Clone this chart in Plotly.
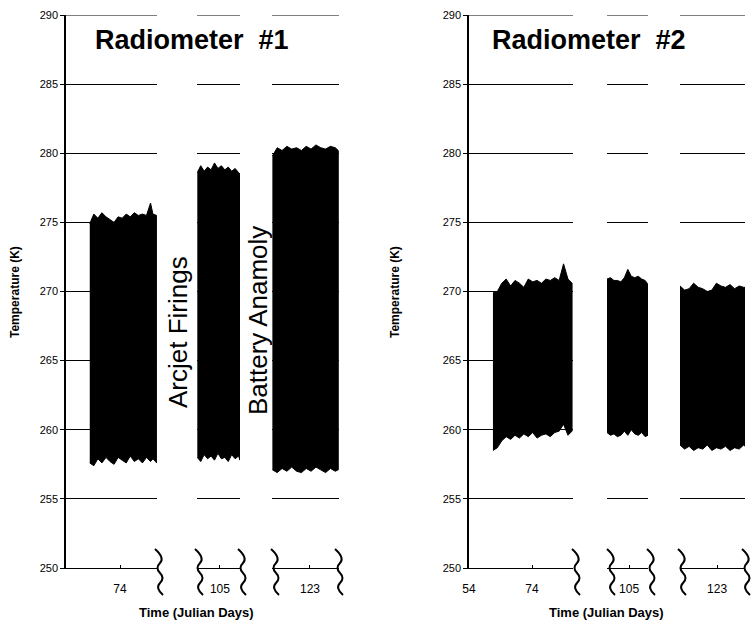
import plotly.graph_objects as go

W, H = 752, 625

# ---------------- data ----------------
# Radiometer #1 (left panel): upper / lower envelopes of the temperature band
r1_seg1_days = [62.8, 64.3, 65.8, 67.3, 68.8, 70.3, 71.8, 73.3, 74.8, 76.3, 77.8, 79.3, 80.8, 82.3, 83.8, 85.3, 86.2, 87.6]
r1_seg1_upper = [274.9, 275.6, 275.3, 275.7, 275.4, 275.2, 275.0, 275.4, 275.3, 275.6, 275.4, 275.7, 275.5, 275.6, 275.5, 276.4, 275.6, 275.5]
r1_seg1_lower = [257.6, 257.4, 257.9, 257.6, 258.0, 257.7, 257.5, 258.0, 257.8, 257.6, 258.1, 257.7, 257.9, 257.6, 258.0, 257.7, 257.9, 257.6]

r1_seg2_days = [97.1, 98.3, 99.5, 100.7, 101.9, 103.1, 104.3, 105.5, 106.7, 107.9, 109.1, 110.3, 111.5, 112.0]
r1_seg2_upper = [278.6, 279.1, 278.7, 279.0, 278.8, 279.3, 278.9, 279.1, 278.8, 279.0, 278.7, 278.9, 278.6, 278.5]
r1_seg2_lower = [258.0, 257.7, 258.2, 257.9, 258.1, 257.8, 258.3, 257.9, 258.0, 257.7, 258.2, 257.9, 258.1, 257.8]

r1_seg3_days = [112.9, 114.2, 115.5, 116.8, 118.1, 119.4, 120.7, 122.0, 123.3, 124.6, 125.9, 127.2, 128.5, 129.8, 130.6]
r1_seg3_upper = [279.8, 280.4, 280.2, 280.5, 280.3, 280.4, 280.2, 280.5, 280.3, 280.6, 280.4, 280.3, 280.5, 280.4, 280.2]
r1_seg3_lower = [257.1, 256.9, 257.2, 257.0, 257.3, 257.0, 256.9, 257.2, 257.0, 257.3, 257.1, 256.9, 257.2, 257.0, 257.1]

# Radiometer #2 (right panel)
r2_seg1_days = [61.6, 63.0, 64.4, 65.8, 67.2, 68.6, 70.0, 71.4, 72.8, 74.2, 75.6, 77.0, 78.4, 79.8, 81.2, 82.6, 84.0, 85.4, 86.7]
r2_seg1_upper = [269.9, 270.0, 270.6, 270.9, 270.4, 270.8, 270.6, 270.3, 270.9, 270.7, 270.8, 270.6, 270.9, 270.8, 271.0, 270.8, 272.0, 270.9, 270.6]
r2_seg1_lower = [258.5, 258.7, 259.2, 259.5, 259.3, 259.6, 259.4, 259.7, 259.5, 259.8, 259.4, 259.6, 259.7, 259.5, 259.8, 259.9, 260.4, 259.6, 259.9]

r2_seg2_days = [98.0, 99.1, 100.2, 101.3, 102.4, 103.5, 104.6, 105.7, 106.8, 107.9, 109.0, 110.1, 111.0]
r2_seg2_upper = [270.9, 271.0, 270.8, 270.8, 270.7, 271.0, 271.6, 271.1, 271.0, 271.1, 270.9, 270.8, 270.5]
r2_seg2_lower = [259.8, 259.6, 259.7, 259.5, 259.6, 259.9, 259.6, 260.0, 259.7, 259.6, 259.8, 259.5, 259.6]

r2_seg3_days = [111.6, 113.0, 114.4, 115.8, 117.2, 118.6, 120.0, 121.4, 122.8, 124.2, 125.6, 127.0, 128.4, 129.8, 131.2, 131.6]
r2_seg3_upper = [270.4, 270.1, 270.2, 270.6, 270.3, 270.2, 270.0, 270.1, 270.6, 270.4, 270.3, 270.5, 270.2, 270.4, 270.3, 270.3]
r2_seg3_lower = [258.9, 258.6, 258.8, 258.5, 258.7, 258.6, 258.9, 258.5, 258.7, 258.6, 258.8, 258.5, 258.7, 258.6, 258.9, 258.8]

# axis ranges (Julian days) for each broken-axis segment, and tick labels
r1_ranges = [[54, 87.7], [97.0, 112.0], [112.8, 130.8]]
r2_ranges = [[54, 87.0], [98.0, 111.0], [111.6, 131.6]]
r1_ticks = [[74], [105], [123]]
r2_ticks = [[54, 74], [105], [123]]
y_range = [250, 290]
y_ticks = [250, 255, 260, 265, 270, 275, 280, 285, 290]

titles = ["Radiometer\u00a0 #1", "Radiometer\u00a0 #2"]
x_title = "Time (Julian Days)"
y_title = "Temperature (K)"
notes = ["Arcjet Firings", "Battery Anamoly"]

# ---------------- layout helpers ----------------
def px_x(p):
    return p / W

def px_y(p):
    return 1 - p / H

# segment domains in pixels
r1_dom_px = [(66, 157), (197, 240), (272, 339)]
r2_dom_px = [(469, 573), (607, 648), (680, 745)]
y_dom = [px_y(568), px_y(15)]

FONT = "Liberation Sans, Arial, Helvetica, sans-serif"

fig = go.Figure()

segments = [
    (r1_seg1_days, r1_seg1_upper, r1_seg1_lower),
    (r1_seg2_days, r1_seg2_upper, r1_seg2_lower),
    (r1_seg3_days, r1_seg3_upper, r1_seg3_lower),
    (r2_seg1_days, r2_seg1_upper, r2_seg1_lower),
    (r2_seg2_days, r2_seg2_upper, r2_seg2_lower),
    (r2_seg3_days, r2_seg3_upper, r2_seg3_lower),
]

for i, (d, up, lo) in enumerate(segments):
    xa = "x" if i == 0 else f"x{i+1}"
    ya = "y" if i < 3 else "y2"
    fig.add_trace(go.Scatter(
        x=list(d) + list(d)[::-1],
        y=list(up) + list(lo)[::-1],
        xaxis=xa, yaxis=ya,
        mode="lines", fill="toself",
        fillcolor="black", line=dict(color="black", width=1),
        hoverinfo="skip", showlegend=False,
    ))

layout = dict(
    width=W, height=H,
    margin=dict(l=0, r=0, t=0, b=0),
    paper_bgcolor="white", plot_bgcolor="white",
    font=dict(family=FONT, color="black"),
    showlegend=False,
)

doms = r1_dom_px + r2_dom_px
ranges = r1_ranges + r2_ranges
ticks = r1_ticks + r2_ticks
for i in range(6):
    key = "xaxis" if i == 0 else f"xaxis{i+1}"
    layout[key] = dict(
        domain=[px_x(doms[i][0]), px_x(doms[i][1])],
        range=ranges[i],
        anchor="y" if i < 3 else "y2",
        showline=True, linecolor="black", linewidth=1.2,
        showgrid=False, zeroline=False,
        tickmode="array", tickvals=ticks[i],
        ticks="inside", ticklen=3, tickcolor="black",
        ticklabelstandoff=9,
        tickfont=dict(size=12, family=FONT, color="black"),
        automargin=False, fixedrange=True,
    )

for j, key in enumerate(["yaxis", "yaxis2"]):
    layout[key] = dict(
        domain=y_dom,
        range=y_range,
        anchor="x" if j == 0 else "x4",
        showline=True, linecolor="black", linewidth=1.5,
        showgrid=True, gridcolor="black", gridwidth=1,
        zeroline=False,
        tickmode="array", tickvals=y_ticks,
        ticks="outside", ticklen=4, tickcolor="black",
        tickfont=dict(size=11, family=FONT, color="black"),
        automargin=False, fixedrange=True,
    )

fig.update_layout(**layout)

# ---------------- text ----------------
ann = []
for cx, t in zip([192, 589], titles):
    ann.append(dict(x=px_x(cx), y=px_y(40), xref="paper", yref="paper",
                    xanchor="center", yanchor="middle",
                    text=f"<b>{t}</b>", showarrow=False,
                    font=dict(size=27, family=FONT, color="black")))
for cx in [196, 606]:
    ann.append(dict(x=px_x(cx), y=px_y(612), xref="paper", yref="paper",
                    xanchor="center", yanchor="middle",
                    text=f"<b>{x_title}</b>", showarrow=False,
                    font=dict(size=13, family=FONT, color="black")))
for cx in [15, 395]:
    ann.append(dict(x=px_x(cx), y=px_y(292), xref="paper", yref="paper",
                    xanchor="center", yanchor="middle",
                    text=f"<b>{y_title}</b>", showarrow=False, textangle=-90,
                    font=dict(size=12, family=FONT, color="black")))
for (cx, cy), t in zip([(178, 332), (258, 321)], notes):
    ann.append(dict(x=px_x(cx), y=px_y(cy), xref="paper", yref="paper",
                    xanchor="center", yanchor="middle",
                    text=t, showarrow=False, textangle=-90,
                    font=dict(size=26, family=FONT, color="black")))
fig.update_layout(annotations=ann)

# ---------------- axis-break wave marks and top grid lines ----------------
def wave(cx):
    pts = [(cx - 5, 549), (cx + 5, 558), (cx - 5, 568), (cx + 5, 578), (cx - 5, 588), (cx + 3, 595)]
    def P(p):
        return f"{px_x(p[0]):.5f},{px_y(p[1]):.5f}"
    def mid(a, b):
        return ((a[0] + b[0]) / 2, (a[1] + b[1]) / 2)
    s = f"M {P(pts[0])} "
    s += f"Q {P(pts[1])} {P(mid(pts[1], pts[2]))} "
    s += f"Q {P(pts[2])} {P(mid(pts[2], pts[3]))} "
    s += f"Q {P(pts[3])} {P(mid(pts[3], pts[4]))} "
    s += f"Q {P(pts[4])} {P(pts[5])}"
    return s

shapes = []
for cx in [160, 200, 243, 276, 340, 577, 612, 652, 683, 747]:
    shapes.append(dict(type="path", xref="paper", yref="paper", path=wave(cx),
                       line=dict(color="black", width=2)))
for i in range(6):
    xr = "x domain" if i == 0 else f"x{i+1} domain"
    yr = "y" if i < 3 else "y2"
    shapes.append(dict(type="line", xref=xr, yref=yr, x0=0, x1=1,
                       y0=y_range[1], y1=y_range[1],
                       line=dict(color="black", width=1)))
fig.update_layout(shapes=shapes)

fig.write_html("out.html")
